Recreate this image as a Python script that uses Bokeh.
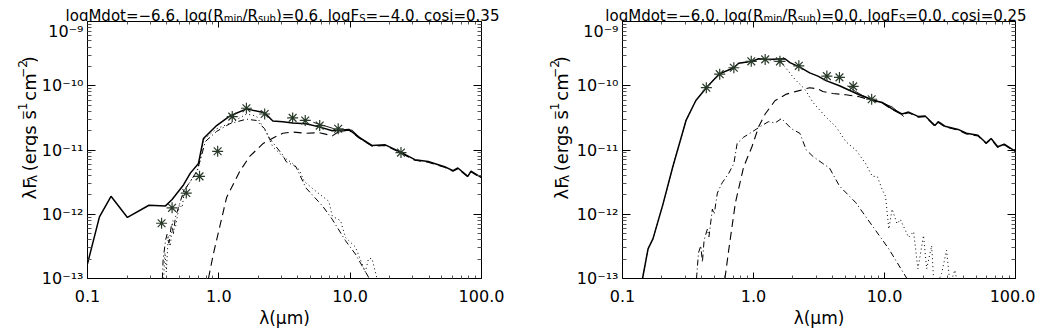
import math
import numpy as np
from bokeh.plotting import figure
from bokeh.models import LogAxis, FixedTicker, CustomJSTickFormatter
from bokeh.core.properties import value
from bokeh.layouts import row, column
from bokeh.embed import file_html
from bokeh.resources import INLINE

FONT = "DejaVu Sans"

# ---------------- data (log10 wavelength [um], log10 lambda*F_lambda [erg s^-1 cm^-2]) -------------
L_solid_lx = [-1.0, -0.909, -0.821, -0.696, -0.532, -0.406, -0.356, -0.268, -0.217, -0.155, -0.117,
              -0.017, 0.085, 0.21, 0.349, 0.411, 0.487, 0.562, 0.663, 0.764, 0.864, 0.99, 1.066,
              1.166, 1.267, 1.38, 1.493, 1.594, 1.719, 1.783, 1.82, 1.896, 1.92, 2.0]
L_solid_ly = [-12.77, -12.04, -11.72, -12.05, -11.86, -11.87, -11.77, -11.54, -11.36, -11.21, -10.82,
              -10.62, -10.47, -10.36, -10.42, -10.55, -10.56, -10.58, -10.59, -10.64, -10.70, -10.68, -10.80,
              -10.93, -10.92, -11.03, -11.15, -11.18, -11.26, -11.32, -11.28, -11.41, -11.33, -11.43]
L_dash_lx = [-0.079, -0.042, 0.059, 0.16, 0.235, 0.336, 0.424, 0.487, 0.562, 0.663, 0.764, 0.864,
             0.915, 0.99, 1.066, 1.166, 1.267, 1.38, 1.493, 1.594, 1.719, 1.783, 1.82, 1.896, 1.92, 2.0]
L_dash_ly = [-13.0, -12.62, -11.74, -11.33, -11.10, -10.90, -10.80, -10.74, -10.72, -10.74, -10.73, -10.78,
             -10.71, -10.69, -10.81, -10.94, -10.93, -11.04, -11.16, -11.19, -11.27, -11.33, -11.29, -11.42, -11.34, -11.44]
L_dot_lx = [-0.42, -0.41, -0.40, -0.385, -0.37, -0.35, -0.33, -0.30, -0.28, -0.26, -0.22, -0.19, -0.16,
            -0.13, -0.117, -0.017, 0.11, 0.21, 0.285, 0.36, 0.411, 0.487, 0.562, 0.613, 0.65, 0.738, 0.838,
            0.864, 0.927, 0.964, 1.04, 1.09, 1.115, 1.14, 1.166, 1.204]
L_dot_ly = [-13.0, -12.6, -12.9, -12.35, -12.5, -12.1, -12.2, -11.85, -11.9, -11.62, -11.5, -11.4, -11.3,
            -11.05, -10.84, -10.67, -10.56, -10.44, -10.47, -10.72, -10.95, -11.10, -11.21, -11.31, -11.49, -11.64, -11.80,
            -12.03, -12.10, -12.36, -12.51, -12.77, -12.90, -12.69, -12.69, -13.0]
L_dd_lx = [-0.43, -0.424, -0.405, -0.394, -0.38, -0.36, -0.345, -0.331, -0.293, -0.268, -0.217, -0.167,
           -0.13, -0.104, -0.017, 0.085, 0.21, 0.285, 0.349, 0.386, 0.487, 0.512, 0.587, 0.663, 0.789, 0.864,
           0.964, 1.04, 1.14, 1.15]
L_dd_ly = [-13.0, -12.7, -12.4, -12.31, -12.45, -12.15, -12.3, -12.05, -11.80, -11.64, -11.49, -11.33,
           -11.08, -10.87, -10.71, -10.59, -10.52, -10.54, -10.67, -10.82, -11.08, -11.18, -11.26, -11.59, -11.87, -12.08,
           -12.41, -12.62, -12.98, -13.05]
L_irs_lx = [0.72, 0.80, 0.864, 0.915, 0.96, 1.015, 1.06, 1.115]
L_irs_ly = [-10.57, -10.62, -10.66, -10.72, -10.70, -10.69, -10.78, -10.88]
L_obs_lx = [-0.436, -0.356, -0.248, -0.147, -0.009, 0.102, 0.21, 0.349, 0.562, 0.658, 0.768, 0.909, 1.387]
L_obs_ly = [-12.14, -11.90, -11.67, -11.41, -11.02, -10.48, -10.35, -10.44, -10.50, -10.54, -10.62, -10.67, -11.04]

R_solid_lx = [-0.847, -0.805, -0.767, -0.692, -0.616, -0.515, -0.44, -0.36, -0.264, -0.15, -0.113, -0.012,
              0.039, 0.101, 0.24, 0.278, 0.354, 0.429, 0.492, 0.554, 0.656, 0.731, 0.807, 0.907, 0.983, 1.058,
              1.134, 1.184, 1.26, 1.31, 1.385, 1.41, 1.461, 1.562, 1.625, 1.713, 1.776, 1.814, 1.864, 1.914, 1.99, 2.0]
R_solid_ly = [-13.0, -12.54, -12.38, -11.85, -11.26, -10.54, -10.23, -10.03, -9.82, -9.72, -9.65, -9.62,
              -9.58, -9.59, -9.58, -9.64, -9.71, -9.80, -9.85, -9.92, -10.0, -10.07, -10.14, -10.22, -10.26, -10.36,
              -10.44, -10.41, -10.48, -10.47, -10.62, -10.56, -10.63, -10.68, -10.74, -10.77, -10.89, -10.82, -10.95, -10.91, -11.01, -10.99]
R_dash_lx = [-0.218, -0.188, -0.138, -0.075, -0.012, 0.039, 0.089, 0.165, 0.252, 0.341, 0.429, 0.492, 0.529,
             0.605, 0.705, 0.807, 0.907, 0.983, 1.058, 1.134, 1.184, 1.26, 1.31, 1.385, 1.41, 1.461, 1.562,
             1.625, 1.713, 1.776, 1.814, 1.864, 1.914, 1.99, 2.0]
R_dash_ly = [-13.0, -12.54, -11.82, -11.26, -10.95, -10.64, -10.44, -10.23, -10.13, -10.08, -10.03, -10.05, -10.09,
             -10.12, -10.14, -10.17, -10.23, -10.27, -10.37, -10.45, -10.42, -10.49, -10.48, -10.63, -10.57, -10.64, -10.69,
             -10.75, -10.78, -10.90, -10.83, -10.96, -10.92, -11.02, -11.0]
R_dot_lx = [-0.847, -0.805, -0.767, -0.692, -0.616, -0.515, -0.44, -0.36, -0.264, -0.15, -0.113, -0.012,
            0.039, 0.101, 0.214, 0.316, 0.391, 0.454, 0.554, 0.63, 0.705, 0.781, 0.856, 0.907, 0.945, 0.983,
            1.008, 1.033, 1.058, 1.096, 1.121, 1.184, 1.222, 1.255, 1.298, 1.322, 1.36, 1.38, 1.436, 1.474,
            1.50, 1.537, 1.56]
R_dot_ly = [-13.0, -12.54, -12.38, -11.85, -11.26, -10.54, -10.23, -10.03, -9.82, -9.72, -9.65, -9.62,
            -9.58, -9.59, -9.64, -9.90, -10.05, -10.26, -10.49, -10.64, -10.87, -11.0, -11.21, -11.41, -11.41, -11.62,
            -11.72, -12.23, -11.92, -12.15, -12.08, -12.36, -12.27, -12.85, -12.33, -12.85, -12.49, -13.2, -12.92, -12.56,
            -13.1, -12.87, -13.1]
R_dd_lx = [-0.435, -0.42, -0.402, -0.39, -0.377, -0.352, -0.34, -0.314, -0.30, -0.276, -0.239, -0.188, -0.15,
           -0.125, -0.075, -0.012, 0.063, 0.114, 0.164, 0.214, 0.29, 0.354, 0.403, 0.454, 0.529, 0.58, 0.656,
           0.781, 0.907, 1.033, 1.171]
R_dd_ly = [-13.0, -12.6, -12.49, -12.75, -12.4, -12.23, -12.35, -11.92, -12.0, -11.67, -11.51, -11.36, -11.21,
           -10.90, -10.80, -10.72, -10.62, -10.56, -10.58, -10.51, -10.67, -10.74, -11.0, -11.10, -11.21, -11.28, -11.56,
           -11.82, -12.18, -12.54, -13.0]
R_irs_lx = [0.718, 0.78, 0.831, 0.90, 0.957, 1.0, 1.058, 1.10, 1.147]
R_irs_ly = [-10.0, -10.09, -10.15, -10.21, -10.25, -10.28, -10.33, -10.40, -10.48]
R_obs_lx = [-0.36, -0.258, -0.15, -0.017, 0.089, 0.202, 0.346, 0.56, 0.656, 0.761, 0.902]
R_obs_ly = [-10.03, -9.82, -9.72, -9.62, -9.59, -9.62, -9.69, -9.85, -9.87, -10.01, -10.21]

x_major = [0.1, 1.0, 10.0, 100.0]
y_major = [1e-13, 1e-12, 1e-11, 1e-10, 1e-9]

titles = [
    [("logMdot=−6.6, log(R", "n"), ("min", "sub"), ("/R", "n"), ("sub", "sub"), (")=0.6, logF", "n"),
     ("S", "sub"), ("=−4.0, cosi=0.35", "n")],
    [("logMdot=−6.0, log(R", "n"), ("min", "sub"), ("/R", "n"), ("sub", "sub"), (")=0.0, logF", "n"),
     ("S", "sub"), ("=0.0, cosi=0.25", "n")],
]
ylabel_parts = [("λF", "n"), ("λ", "sub"), (" (ergs s", "n"), ("−1", "sup"), (" cm", "n"), ("−2", "sup"), (")", "n")]
xlabel = "λ(μm)"

# DejaVu Sans advance widths (em)
W = {' ': 0.318, '(': 0.390, ')': 0.390, ',': 0.318, '-': 0.361, '.': 0.318, '/': 0.337, '=': 0.838,
     '−': 0.838, 'F': 0.575, 'M': 0.863, 'R': 0.695, 'S': 0.635, 'b': 0.635, 'c': 0.550, 'd': 0.635,
     'e': 0.615, 'g': 0.635, 'i': 0.278, 'l': 0.278, 'm': 0.974, 'n': 0.634, 'o': 0.612, 'r': 0.411,
     's': 0.521, 't': 0.392, 'u': 0.634, 'λ': 0.592, 'μ': 0.636}
for d in "0123456789":
    W[d] = 0.636


def tw(s, size):
    return sum(W.get(c, 0.6) for c in s) * size


def pw(v):
    return [10.0 ** a for a in v]


def minor_for(major):
    out = []
    for m in major[:-1]:
        out += [m * k for k in range(2, 10)]
    return out


# ---------------- layout geometry (px) ----------------
TITLE_H = 21
MAIN_H = 309
BOTTOM = 52
TOTAL_W = 1035
YL1_W, P1_W, P1_L, P1_R = 38, 490, 45, 47
YL2_W, P2_W, P2_L, P2_R = 45, 462, 45, 20


def text_canvas(w, h):
    f = figure(width=w, height=h, x_range=(0, w), y_range=(0, h), min_border=0,
               x_axis_location=None, y_axis_location=None, output_backend="svg",
               toolbar_location=None)
    f.grid.visible = False
    f.outline_line_color = None
    f.background_fill_color = "white"
    f.border_fill_color = "white"
    return f


def put(f, t, x, y, size, angle=0.0):
    # leading blanks collapse in SVG text: turn them into an explicit advance
    lead = len(t) - len(t.lstrip(" "))
    adv = lead * W[" "] * size
    dx, dy = adv * math.cos(angle), adv * math.sin(angle)
    f.text(x=[x + dx], y=[y + dy], text=[t.lstrip(" ")], angle=angle, text_font=value(FONT),
           text_font_size=value(f"{size}px"), text_align="left", text_baseline="alphabetic",
           text_color="black")


BLANK = CustomJSTickFormatter(code="return '';")


def main_panel(width, lb, rb, series):
    p = figure(x_axis_type="log", y_axis_type="log", x_range=(0.1, 100), y_range=(1e-13, 1e-9),
               width=width, height=MAIN_H, min_border_left=lb, min_border_right=rb,
               min_border_top=0, min_border_bottom=BOTTOM,
               output_backend="svg", toolbar_location=None)
    p.grid.visible = False
    p.outline_line_color = None
    p.background_fill_color = "white"
    p.border_fill_color = "white"

    xt = FixedTicker(ticks=x_major, minor_ticks=minor_for(x_major))
    yt = FixedTicker(ticks=y_major, minor_ticks=minor_for(y_major))

    ax = p.xaxis[0]
    ax.ticker = xt
    ax.formatter = CustomJSTickFormatter(code="return tick.toFixed(1);")
    ax.major_label_text_font = FONT
    ax.major_label_text_font_size = "16px"
    ax.major_label_standoff = 11
    ax.axis_label = xlabel
    ax.axis_label_text_font = FONT
    ax.axis_label_text_font_size = "17px"
    ax.axis_label_text_font_style = "normal"
    ax.axis_label_standoff = 3
    ax.axis_label_text_color = "black"

    ay = p.yaxis[0]
    ay.ticker = yt
    ay.formatter = CustomJSTickFormatter(code="""
const e = Math.round(Math.log10(tick));
const m = {'-':'⁻','0':'⁰','1':'¹','2':'²','3':'³','4':'⁴','5':'⁵','6':'⁶','7':'⁷','8':'⁸','9':'⁹'};
return '10' + String(e).split('').map(c => m[c]).join('');
""")
    ay.major_label_text_font = FONT
    ay.major_label_text_font_size = "16px"
    ay.major_label_standoff = 4

    top = LogAxis(ticker=xt, formatter=BLANK, major_label_text_font_size="2px", major_label_standoff=0)
    right = LogAxis(ticker=yt, formatter=BLANK, major_label_text_font_size="2px", major_label_standoff=0)
    p.add_layout(top, "above")
    p.add_layout(right, "right")
    for a in (ax, top):
        a.major_tick_in = 6; a.major_tick_out = 0
        a.minor_tick_in = 3; a.minor_tick_out = 0
    for a in (ay, right):
        a.major_tick_in = 8; a.major_tick_out = 0
        a.minor_tick_in = 4; a.minor_tick_out = 0
    for a in (ax, ay, top, right):
        a.axis_line_color = "black"
        a.major_tick_line_color = "black"
        a.minor_tick_line_color = "#555555"
        a.major_label_text_color = "black"

    solid, dash, dot, dd, irs, obs = series
    p.line(pw(dot[0]), pw(dot[1]), line_color="black", line_width=1, line_dash="1 3")
    p.line(pw(dd[0]), pw(dd[1]), line_color="black", line_width=1, line_dash="6 3 1 3")
    p.line(pw(dash[0]), pw(dash[1]), line_color="black", line_width=1.1, line_dash="8 5")
    p.line(pw(irs[0]), pw(irs[1]), line_color="black", line_width=0.9)
    p.line(pw(solid[0]), pw(solid[1]), line_color="black", line_width=1.5)
    p.scatter(pw(obs[0]), pw(obs[1]), marker="asterisk", size=11, line_color="#2a3a2a", line_width=1.2)
    return p


# ---- title strip ----
tfig = text_canvas(TOTAL_W, TITLE_H)
frame_centers = [YL1_W + P1_L + (P1_W - P1_L - P1_R) / 2,
                 YL1_W + P1_W + YL2_W + P2_L + (P2_W - P2_L - P2_R) / 2 - 1]
ts, ss = 15, 10
for ix in range(2):
    total = sum(tw(t, ts if k == "n" else ss) for t, k in titles[ix])
    cur = frame_centers[ix] - total / 2
    for t, k in titles[ix]:
        size = ts if k == "n" else ss
        put(tfig, t, cur, 6.0 + (-2.5 if k == "sub" else 0), size)
        cur += tw(t, size)


# ---- rotated y labels ----
def ylabel_canvas(w, base_x):
    f = text_canvas(w, MAIN_H)
    ls, lss = 18, 12
    fh = MAIN_H - BOTTOM
    total = sum(tw(t, ls if k == "n" else lss) for t, k in ylabel_parts)
    cur = BOTTOM + fh / 2 - total / 2
    for t, k in ylabel_parts:
        size = ls if k == "n" else lss
        dx = 3 if k == "sub" else (-7 if k == "sup" else 0)
        put(f, t, base_x + dx, cur, size, angle=math.pi / 2)
        cur += tw(t, size)
    return f


yl1 = ylabel_canvas(YL1_W, 29)
yl2 = ylabel_canvas(YL2_W, 33)

p1 = main_panel(P1_W, P1_L, P1_R, [(L_solid_lx, L_solid_ly), (L_dash_lx, L_dash_ly), (L_dot_lx, L_dot_ly),
                                   (L_dd_lx, L_dd_ly), (L_irs_lx, L_irs_ly), (L_obs_lx, L_obs_ly)])
p2 = main_panel(P2_W, P2_L, P2_R, [(R_solid_lx, R_solid_ly), (R_dash_lx, R_dash_ly), (R_dot_lx, R_dot_ly),
                                   (R_dd_lx, R_dd_ly), (R_irs_lx, R_irs_ly), (R_obs_lx, R_obs_ly)])

layout = column(tfig, row(yl1, p1, yl2, p2))
open("out.html", "w", encoding="utf-8").write(file_html(layout, INLINE))
